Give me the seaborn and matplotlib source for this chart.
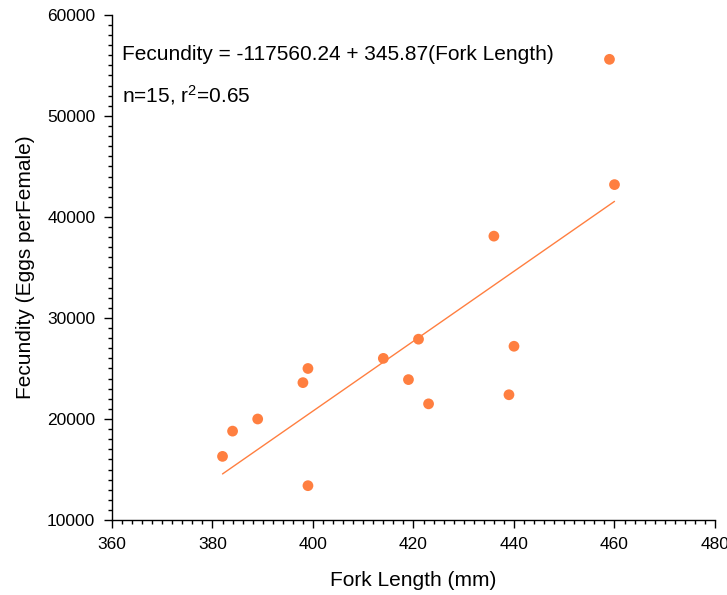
import numpy as np
import pandas as pd
import seaborn as sns
import matplotlib.pyplot as plt
from matplotlib.ticker import MultipleLocator

## Data
fork_length = [382, 384, 389, 398, 399, 399, 414, 419, 421, 423, 436, 440, 439, 459, 460]
fecundity = [16300, 18800, 20000, 23600, 25000, 13400, 26000, 23900, 27900, 21500,
             38100, 27200, 22400, 55600, 43200]

intercept = -117560.24
slope = 345.87
fit_range = [382, 460]

ORANGE = "#FF7F40"

sns.set_theme(style="ticks")
plt.rcParams["font.family"] = ["Liberation Sans", "DejaVu Sans"]
plt.rcParams["mathtext.fontset"] = "custom"
plt.rcParams["mathtext.rm"] = "Liberation Sans"
plt.rcParams["text.color"] = "black"
plt.rcParams["axes.labelcolor"] = "black"
plt.rcParams["xtick.color"] = "black"
plt.rcParams["ytick.color"] = "black"

df = pd.DataFrame({"Fork Length": fork_length, "Fecundity": fecundity})
fit = pd.DataFrame({"x": fit_range})
fit["y"] = intercept + slope * fit["x"]

fig = plt.figure(figsize=(7.27, 5.95), dpi=100)
ax = fig.add_axes([0.154, 0.126, 0.8295, 0.849])

sns.lineplot(data=fit, x="x", y="y", ax=ax, color=ORANGE, linewidth=1)
sns.scatterplot(data=df, x="Fork Length", y="Fecundity", ax=ax,
                color=ORANGE, s=60, edgecolor="none", zorder=3)

ax.set_xlim(360, 480)
ax.set_ylim(10000, 60000)
ax.xaxis.set_major_locator(MultipleLocator(20))
ax.xaxis.set_minor_locator(MultipleLocator(2))
ax.yaxis.set_major_locator(MultipleLocator(10000))
ax.yaxis.set_minor_locator(MultipleLocator(1000))
ax.tick_params(which="major", length=6, width=1, labelsize=12.5, pad=6)
ax.tick_params(which="minor", length=3, width=1)
sns.despine(ax=ax)
for sp in ["left", "bottom"]:
    ax.spines[sp].set_color("black")
    ax.spines[sp].set_linewidth(1)

ax.set_xlabel("Fork Length (mm)", fontsize=15, labelpad=14)
ax.set_ylabel("Fecundity (Eggs perFemale)", fontsize=15, labelpad=9)

ax.text(0.0166, 0.921, "Fecundity = -117560.24 + 345.87(Fork Length)",
        transform=ax.transAxes, fontsize=15, va="center", ha="left")
ax.text(0.0166, 0.842, r"n=15, $\mathregular{r^2}$=0.65",
        transform=ax.transAxes, fontsize=15, va="center", ha="left")

fig.savefig("out.png", dpi=100)
